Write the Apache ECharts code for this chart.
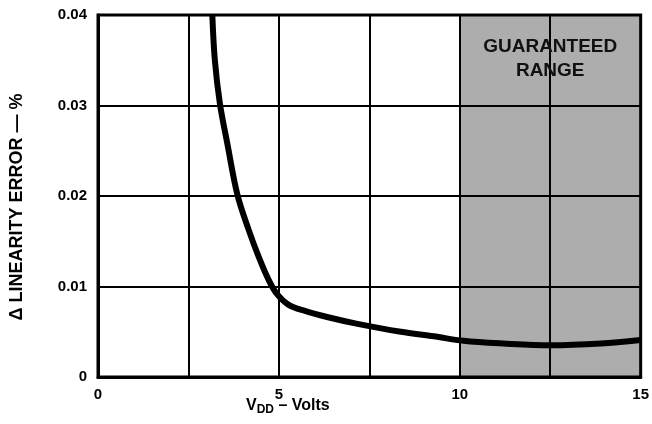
<!DOCTYPE html>
<html>
<head>
<meta charset="utf-8">
<script src="https://cdn.jsdelivr.net/npm/echarts@6/dist/echarts.min.js"></script>
<style>
  html, body { margin: 0; padding: 0; background: #fff; overflow: hidden; }
  #main { width: 652px; height: 424px; }
</style>
</head>
<body>
<div id="main"></div>
<script>
// VDD (volts) vs delta linearity error (%)
var vdd = [3.16, 3.23, 3.37, 3.57, 3.85, 4.17, 4.44, 4.72, 4.94, 5.26, 5.72, 6.36, 7.14, 8.37, 9.28, 10.1, 11.2, 12.5, 13.9, 15.0];
var linErr = [0.040, 0.035, 0.0302, 0.0259, 0.0202, 0.0162, 0.0133, 0.0107, 0.0092, 0.0080, 0.0073, 0.0066, 0.0059, 0.0050, 0.0045, 0.0040, 0.0037, 0.0035, 0.0037, 0.0041];
var xTicks = ['0', '5', '10', '15'];
var yTicks = ['0', '0.01', '0.02', '0.03', '0.04'];
var rangeStart = 10, rangeEnd = 15;

var fontFam = '"Liberation Sans", Arial, sans-serif';

var points = vdd.map(function(v, i) { return [v, linErr[i]]; });

var chart = echarts.init(document.getElementById('main'));

var option = {
	backgroundColor: '#fff',
	animation: false,
	grid: {
		left: 98,
		right: 6,
		top: 15,
		bottom: 47,
		show: true,
		borderColor: '#000',
		borderWidth: 3
	},
	xAxis: {
		type: 'value',
		min: 0,
		max: 15,
		interval: 2.5,
		axisLine: { show: true, lineStyle: { color: '#000', width: 3 } },
		axisTick: { show: false },
		splitLine: { show: true, lineStyle: { color: '#000', width: 2 } },
		axisLabel: {
			margin: 10,
			color: '#000',
			fontSize: 15,
			fontWeight: 'bold',
			fontFamily: fontFam,
			formatter: function(v) {
				var s = String(v);
				return xTicks.indexOf(s) >= 0 ? s : '';
			}
		}
	},
	yAxis: {
		type: 'value',
		min: 0,
		max: 0.04,
		interval: 0.01,
		name: 'Δ LINEARITY ERROR — %',
		nameLocation: 'middle',
		nameGap: 72,
		nameTextStyle: {
			color: '#000',
			fontSize: 18,
			fontWeight: 'bold',
			fontFamily: fontFam,
			padding: [0, 22, 0, 0]
		},
		axisLine: { show: true, lineStyle: { color: '#000', width: 3 } },
		axisTick: { show: false },
		splitLine: { show: true, lineStyle: { color: '#000', width: 2 } },
		axisLabel: {
			margin: 11,
			color: '#000',
			fontSize: 15,
			fontWeight: 'bold',
			fontFamily: fontFam,
			formatter: function(v) {
				return yTicks[Math.round(v * 100)];
			}
		}
	},
	graphic: [{
		type: 'text',
		left: 246,
		top: 398,
		style: {
			text: '{v|V}{s|DD}{v| – Volts}',
			rich: {
				v: { fontSize: 16, fontWeight: 'bold', fontFamily: fontFam, fill: '#000', color: '#000' },
				s: { fontSize: 12, fontWeight: 'bold', fontFamily: fontFam, fill: '#000', color: '#000', padding: [7, 0, 0, 0] }
			}
		}
	}],
	series: [{
		type: 'line',
		data: points,
		smooth: 0.35,
		showSymbol: false,
		lineStyle: { color: '#000', width: 6 },
		markArea: {
			silent: true,
			itemStyle: { color: 'rgba(0,0,0,0.32)' },
			label: {
				show: true,
				position: 'insideTop',
				distance: 20,
				formatter: 'GUARANTEED\nRANGE',
				color: '#111',
				fontSize: 19,
				lineHeight: 24,
				fontWeight: 'bold',
				fontFamily: fontFam
			},
			data: [[{ xAxis: rangeStart }, { xAxis: rangeEnd }]]
		}
	}]
};
chart.setOption(option);
</script>
</body>
</html>
